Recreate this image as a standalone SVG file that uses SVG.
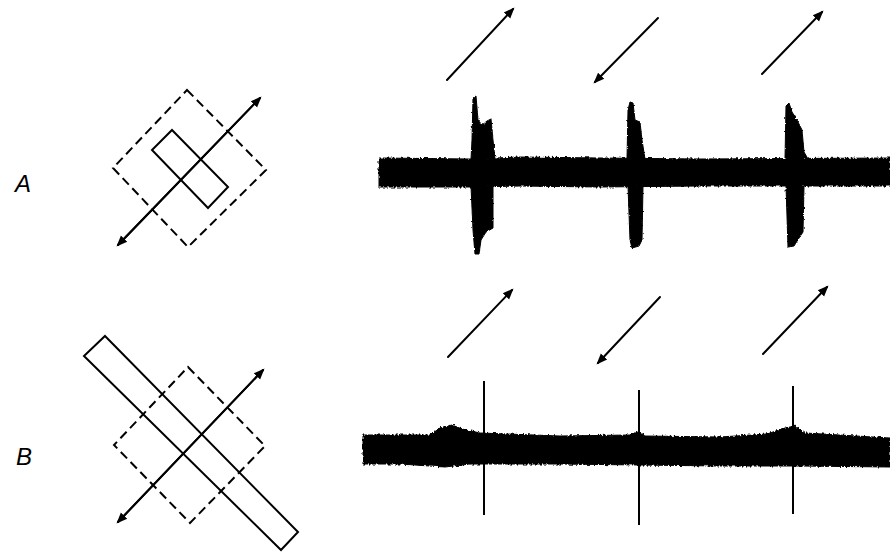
<svg xmlns="http://www.w3.org/2000/svg" width="890" height="556" viewBox="0 0 890 556">
<style>
.ln{fill:none;stroke:#000;stroke-width:2;stroke-linecap:round}
.ds{fill:none;stroke:#000;stroke-width:2;stroke-dasharray:9 5}
.rc{fill:none;stroke:#000;stroke-width:2;stroke-linejoin:miter}
.tr{fill:#000;stroke:#000;stroke-width:1}
.sp{stroke:#000;stroke-width:2;fill:none}
.lb{font-family:"Liberation Sans",Arial,sans-serif;font-style:italic;font-size:24px;fill:#000}
</style>
<defs>
<marker id="ah" viewBox="0 0 10 10" refX="8" refY="5" markerWidth="5.5" markerHeight="5.5" orient="auto" markerUnits="strokeWidth">
<path d="M0,1 L10,5 L0,9 Z" fill="#000"/>
</marker>
<filter id="rough" x="-5%" y="-20%" width="110%" height="140%">
<feTurbulence type="fractalNoise" baseFrequency="0.5 0.25" numOctaves="2" seed="3" result="n"/>
<feDisplacementMap in="SourceGraphic" in2="n" scale="4" xChannelSelector="R" yChannelSelector="G"/>
</filter>
<filter id="rough2" x="-20%" y="-5%" width="140%" height="110%">
<feTurbulence type="fractalNoise" baseFrequency="0.3 0.4" numOctaves="2" seed="7" result="n"/>
<feDisplacementMap in="SourceGraphic" in2="n" scale="2.5" xChannelSelector="R" yChannelSelector="G"/>
</filter>
</defs>
<rect width="890" height="556" fill="#fff"/>

<g id="label-A"><text class="lb" x="15" y="192">A</text></g>
<g id="label-B"><text class="lb" x="16" y="465">B</text></g>

<g id="stimulus-A">
<path class="ds" d="M187,90 L266,170 L188,247 L113,168 Z"/>
<path class="rc" d="M172,130 L228,187 L208,208 L152,150 Z"/>
</g>

<g id="stimulus-B">
<path class="ds" d="M188,367 L265,446 L190,523 L114,445 Z"/>
<path class="rc" d="M105,336 L298,532 L281,550 L84,356 Z"/>
</g>

<g id="trace-A">
<g filter="url(#rough)">
<path class="tr" d="M379,158 L470,159 L520,157 L600,158 L700,159 L890,158 L890,186 L700,186 L600,187 L520,186 L470,187 L379,187 Z"/>
</g>
<g filter="url(#rough2)">
<path class="tr" d="M471,159 L472,140 L473,98 L476,96 L478,120 L482,125 L487,121 L491,119 L493,140 L495,159 Z"/>
<path class="tr" d="M471,186 L493,186 L493,228 L486,232 L481,240 L479,254 L475,254 L473,230 Z"/>
<path class="tr" d="M627,159 L628,110 L630,102 L633,103 L635,120 L640,122 L642,140 L645,159 Z"/>
<path class="tr" d="M628,186 L643,186 L642,240 L639,246 L632,248 L630,240 Z"/>
<path class="tr" d="M785,159 L786,106 L789,103 L792,112 L797,120 L802,130 L804,152 L808,159 Z"/>
<path class="tr" d="M786,186 L804,186 L803,232 L799,238 L794,246 L788,247 Z"/>
</g>
</g>

<g id="trace-B">
<g filter="url(#rough)">
<path class="tr" d="M363,435 L430,435 L440,428 L452,425 L462,429 L480,433 L560,436 L630,435 L638,432 L645,436 L720,437 L767,434 L785,428 L795,426 L805,433 L890,438 L890,467 L800,466 L720,466 L640,465 L560,464 L470,464 L445,467 L400,464 L363,464 Z"/>
</g>
<line class="sp" x1="484" y1="381" x2="484" y2="515"/>
<line class="sp" x1="639" y1="390" x2="639" y2="525"/>
<line class="sp" x1="793" y1="386" x2="793" y2="514"/>
</g>

<g id="connectors">
<line class="ln" x1="118" y1="245" x2="260" y2="98" marker-end="url(#ah)"/>
<line class="ln" x1="260" y1="98" x2="118" y2="245" marker-end="url(#ah)"/>
<line class="ln" x1="118" y1="522" x2="263" y2="370" marker-end="url(#ah)"/>
<line class="ln" x1="263" y1="370" x2="118" y2="522" marker-end="url(#ah)"/>
<line class="ln" x1="447" y1="80" x2="513" y2="9" marker-end="url(#ah)"/>
<line class="ln" x1="658" y1="18" x2="595" y2="82" marker-end="url(#ah)"/>
<line class="ln" x1="762" y1="74" x2="822" y2="12" marker-end="url(#ah)"/>
<line class="ln" x1="448" y1="357" x2="512" y2="290" marker-end="url(#ah)"/>
<line class="ln" x1="660" y1="297" x2="598" y2="363" marker-end="url(#ah)"/>
<line class="ln" x1="763" y1="354" x2="827" y2="287" marker-end="url(#ah)"/>
</g>
</svg>
